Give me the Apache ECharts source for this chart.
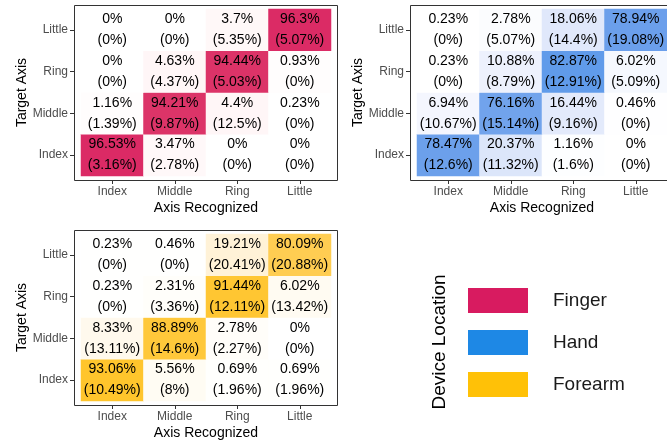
<!DOCTYPE html>
<html>
<head>
<meta charset="utf-8">
<script src="https://cdn.jsdelivr.net/npm/echarts@6/dist/echarts.min.js"></script>
<style>html,body{margin:0;padding:0;background:#fff;}#c{width:667px;height:442px;}</style>
</head>
<body>
<div id="c"></div>
<script>
// Categories (rows = Target Axis, bottom to top; columns = Axis Recognized, left to right)
const categories = ['Index', 'Middle', 'Ring', 'Little'];
const locations = ['Finger', 'Hand', 'Forearm'];
const locationColors = ['#D81B60', '#1E88E5', '#FFC107'];

// Finger: rows Index, Middle, Ring, Little
const fingerPct = [
  [96.53, 3.47, 0, 0],
  [1.16, 94.21, 4.4, 0.23],
  [0, 4.63, 94.44, 0.93],
  [0, 0, 3.7, 96.3]
];
const fingerSub = [
  [3.16, 2.78, 0, 0],
  [1.39, 9.87, 12.5, 0],
  [0, 4.37, 5.03, 0],
  [0, 0, 5.35, 5.07]
];
// Hand
const handPct = [
  [78.47, 20.37, 1.16, 0],
  [6.94, 76.16, 16.44, 0.46],
  [0.23, 10.88, 82.87, 6.02],
  [0.23, 2.78, 18.06, 78.94]
];
const handSub = [
  [12.6, 11.32, 1.6, 0],
  [10.67, 15.14, 9.16, 0],
  [0, 8.79, 12.91, 5.09],
  [0, 5.07, 14.4, 19.08]
];
// Forearm
const forearmPct = [
  [93.06, 5.56, 0.69, 0.69],
  [8.33, 88.89, 2.78, 0],
  [0.23, 2.31, 91.44, 6.02],
  [0.23, 0.46, 19.21, 80.09]
];
const forearmSub = [
  [10.49, 8, 1.96, 1.96],
  [13.11, 14.6, 2.27, 0],
  [0, 3.36, 12.11, 13.42],
  [0, 0, 20.41, 20.88]
];

const pctSets = [fingerPct, handPct, forearmPct];
const subSets = [fingerSub, handSub, forearmSub];

const FONT = "'Liberation Sans', Arial, Helvetica, sans-serif";
const grids = [
  {left: 81, top: 9, width: 250, height: 167},
  {left: 417, top: 9, width: 250, height: 167},
  {left: 81, top: 234, width: 250, height: 167}
];

// --- Lab interpolation (white -> colour), like a gradient scale ---
function hexToRgb(h) { h = h.replace('#', ''); return [0, 2, 4].map(i => parseInt(h.substr(i, 2), 16)); }
function srgbToLin(c) { c /= 255; return c <= 0.04045 ? c / 12.92 : Math.pow((c + 0.055) / 1.055, 2.4); }
function linToSrgb(c) { c = c <= 0.0031308 ? 12.92 * c : 1.055 * Math.pow(c, 1 / 2.4) - 0.055; return Math.max(0, Math.min(255, Math.round(c * 255))); }
const WX = 0.95047, WY = 1, WZ = 1.08883;
function f(t) { return t > 0.008856 ? Math.cbrt(t) : 7.787 * t + 16 / 116; }
function finv(t) { return t > 0.206893 ? t * t * t : (t - 16 / 116) / 7.787; }
function rgbToLab(rgb) {
  const [r, g, b] = rgb.map(srgbToLin);
  const X = r * 0.4124 + g * 0.3576 + b * 0.1805;
  const Y = r * 0.2126 + g * 0.7152 + b * 0.0722;
  const Z = r * 0.0193 + g * 0.1192 + b * 0.9505;
  const fx = f(X / WX), fy = f(Y / WY), fz = f(Z / WZ);
  return [116 * fy - 16, 500 * (fx - fy), 200 * (fy - fz)];
}
function labToRgb(lab) {
  const fy = (lab[0] + 16) / 116, fx = fy + lab[1] / 500, fz = fy - lab[2] / 200;
  const X = finv(fx) * WX, Y = finv(fy) * WY, Z = finv(fz) * WZ;
  const r = X * 3.2406 + Y * -1.5372 + Z * -0.4986;
  const g = X * -0.9689 + Y * 1.8758 + Z * 0.0415;
  const b = X * 0.0557 + Y * -0.2040 + Z * 1.0570;
  return 'rgb(' + [r, g, b].map(linToSrgb).join(',') + ')';
}
function labRamp(hex, n) {
  const a = rgbToLab([255, 255, 255]), b = rgbToLab(hexToRgb(hex));
  const out = [];
  for (let i = 0; i <= n; i++) {
    const t = i / n;
    out.push(labToRgb([0, 1, 2].map(k => a[k] + (b[k] - a[k]) * t)));
  }
  return out;
}

function buildData(pct, sub) {
  const out = [];
  for (let r = 0; r < categories.length; r++) {
    for (let c = 0; c < categories.length; c++) {
      out.push([c, r, pct[r][c], sub[r][c]]);
    }
  }
  return out;
}

const xAxes = [], yAxes = [], series = [], visualMaps = [], frames = [];
grids.forEach((g, i) => {
  xAxes.push({
    type: 'category', gridIndex: i, data: categories, position: 'bottom', offset: 4,
    axisLine: {show: false},
    axisTick: {show: true, length: 4, alignWithLabel: true, lineStyle: {color: '#333333'}},
    axisLabel: {color: '#4D4D4D', fontSize: 12, margin: 6, fontFamily: FONT},
    splitLine: {show: false},
    name: 'Axis Recognized', nameLocation: 'middle', nameGap: 21,
    nameTextStyle: {fontSize: 14, color: '#000', fontFamily: FONT}
  });
  yAxes.push({
    type: 'category', gridIndex: i, data: categories, position: 'left', offset: 7,
    axisLine: {show: false},
    axisTick: {show: true, length: 4, alignWithLabel: true, lineStyle: {color: '#333333'}},
    axisLabel: {color: '#4D4D4D', fontSize: 12, margin: 6, fontFamily: FONT},
    splitLine: {show: false},
    name: 'Target Axis', nameLocation: 'middle', nameGap: 44,
    nameTextStyle: {fontSize: 14, color: '#000', fontFamily: FONT}
  });
  series.push({
    type: 'heatmap', name: locations[i], xAxisIndex: i, yAxisIndex: i,
    data: buildData(pctSets[i], subSets[i]),
    itemStyle: {borderWidth: 0},
    emphasis: {disabled: true},
    label: {
      show: true, color: '#000', fontSize: 14, lineHeight: 21, fontFamily: FONT,
      formatter: p => p.value[2] + '%\n(' + p.value[3] + '%)'
    }
  });
  visualMaps.push({
    type: 'continuous', show: false, seriesIndex: i, dimension: 2,
    min: 0, max: 100, inRange: {color: labRamp(locationColors[i], 20)}
  });
  frames.push({
    type: 'rect', z: 100, silent: true,
    shape: {x: g.left - 7 + 0.5, y: g.top - 4 + 0.5, width: g.width + 13, height: g.height + 8},
    style: {fill: 'none', stroke: '#333333', lineWidth: 1}
  });
});

frames.push({
  type: 'text', x: 440, y: 342, rotation: Math.PI / 2, silent: true,
  style: {text: 'Device Location', fontSize: 19, fontFamily: FONT, fill: '#000',
          align: 'center', verticalAlign: 'middle'}
});

const option = {
  animation: false,
  textStyle: {fontFamily: FONT},
  grid: grids,
  xAxis: xAxes,
  yAxis: yAxes,
  visualMap: visualMaps,
  series: series,
  legend: {
    orient: 'vertical', left: 468, top: 288, padding: 0, itemWidth: 60, itemHeight: 25, itemGap: 17,
    icon: 'rect', selectedMode: false,
    data: locations.map((n, i) => ({name: n, itemStyle: {color: locationColors[i]}})),
    textStyle: {fontSize: 19, color: '#1A1A1A', fontFamily: FONT, padding: [0, 0, 0, 20]}
  },
  graphic: frames
};

const chart = echarts.init(document.getElementById('c'), null, {renderer: 'canvas'});
chart.setOption(option);
</script>
</body>
</html>
